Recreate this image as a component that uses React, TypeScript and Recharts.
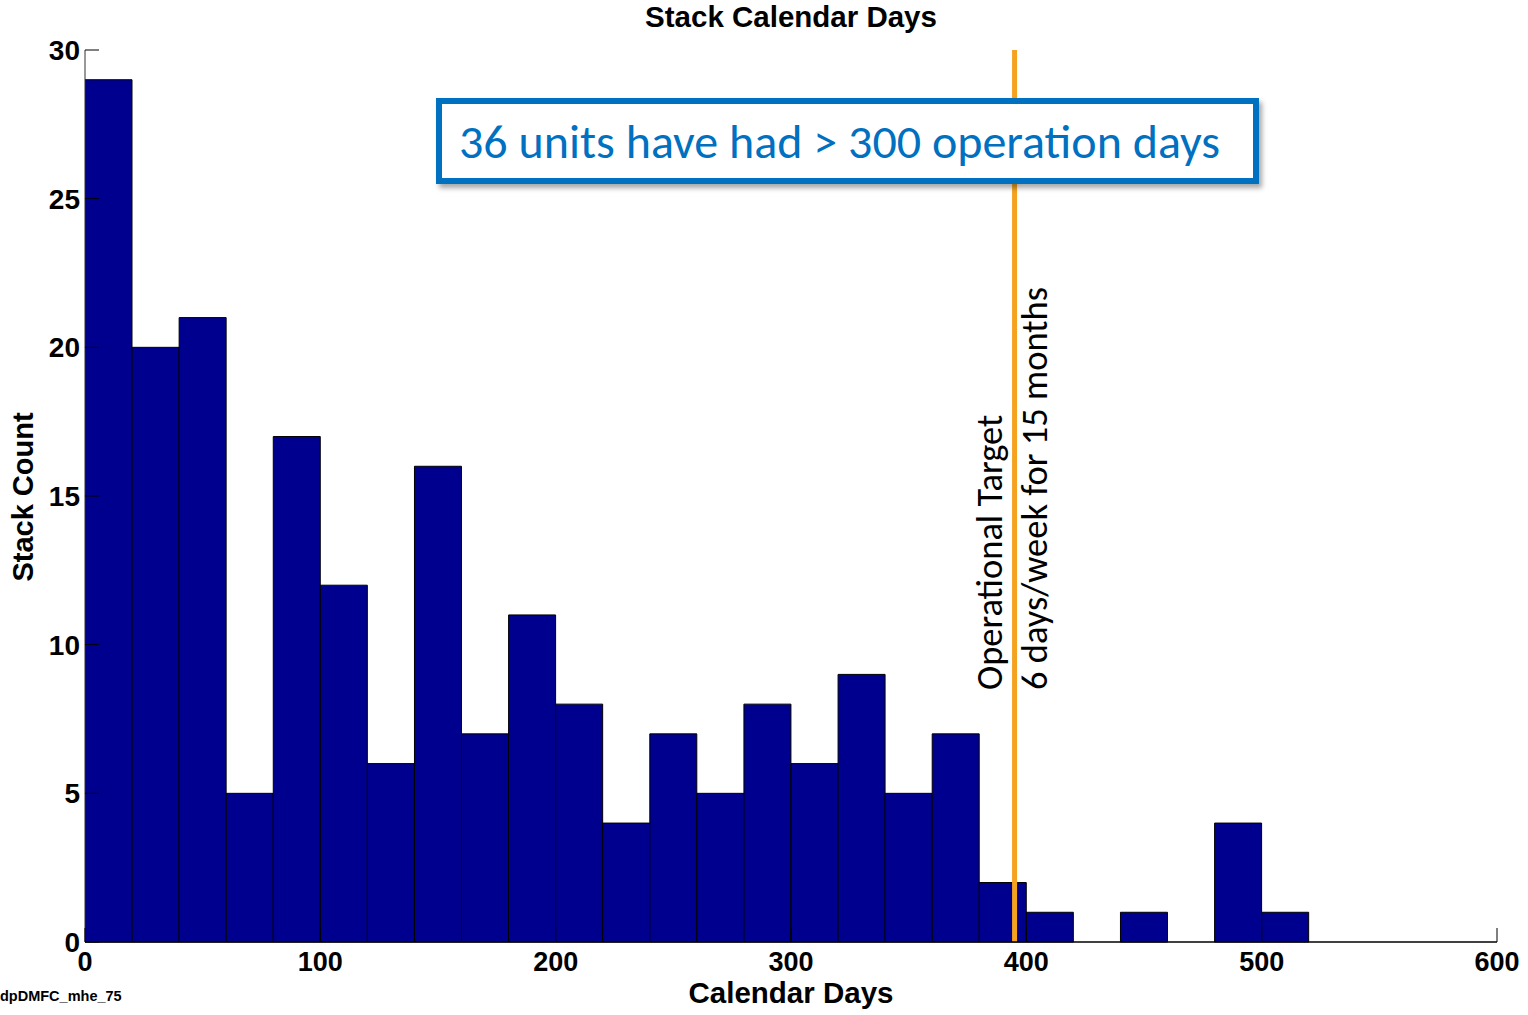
import React from 'react';
import { BarChart, Bar, XAxis, YAxis, ReferenceLine } from 'recharts';

// Histogram bins (20 days wide), identified by bin centre in days
const binCenters = [
  10, 30, 50, 70, 90, 110, 130, 150, 170, 190,
  210, 230, 250, 270, 290, 310, 330, 350, 370, 390,
  410, 430, 450, 470, 490, 510, 530, 550, 570, 590,
];
const stackCounts = [
  29, 20, 21, 5, 17, 12, 6, 16, 7, 11,
  8, 4, 7, 5, 8, 6, 9, 5, 7, 2,
  1, 0, 1, 0, 4, 1, 0, 0, 0, 0,
];
const xTicks = [0, 100, 200, 300, 400, 500, 600];
const yTicks = [0, 5, 10, 15, 20, 25, 30];
const targetDays = 395;

const data = binCenters.map((c, i) => ({ days: c, count: stackCounts[i] }));

const ARIAL = 'Arial, "Liberation Sans", Helvetica, sans-serif';
const CAL = 'Carlito, Calibri, Lato, "Open Sans", sans-serif';
const X_MARGIN = 8;
const Y_MARGIN = 5;

const XTick = (props: any) => {
  const { x, y, payload } = props;
  const axisY = y - X_MARGIN;
  return (
    <g>
      <line x1={x} y1={axisY} x2={x} y2={axisY - 14} stroke="#000" strokeWidth={1} />
      <text x={x} y={y} dy="0.78em" textAnchor="middle" fontFamily={ARIAL} fontWeight="bold" fontSize={27} fill="#000">
        {payload.value}
      </text>
    </g>
  );
};

const YTick = (props: any) => {
  const { x, y, payload } = props;
  const axisX = x + Y_MARGIN;
  return (
    <g>
      <line x1={axisX} y1={y} x2={axisX + 14} y2={y} stroke="#000" strokeWidth={1} />
      <text x={x} y={y} dy="0.36em" textAnchor="end" fontFamily={ARIAL} fontWeight="bold" fontSize={28} fill="#000">
        {payload.value}
      </text>
    </g>
  );
};

const TargetLabel = (props: any) => {
  const vb = props.viewBox || {};
  const lx = vb.x;
  const bottom = vb.y + vb.height;
  const sy = bottom - 252;
  return (
    <g>
      <text
        x={lx - 13}
        y={sy}
        transform={`rotate(-90 ${lx - 13} ${sy})`}
        fontFamily={CAL}
        fontSize={36.5}
        fill="#000"
        textAnchor="start"
      >
        Operational Target
      </text>
      <text
        x={lx + 32}
        y={sy}
        transform={`rotate(-90 ${lx + 32} ${sy})`}
        fontFamily={CAL}
        fontSize={36.5}
        fill="#000"
        textAnchor="start"
      >
        6 days/week for 15 months
      </text>
    </g>
  );
};

export default function App() {
  return (
    <div style={{ position: 'absolute', left: 0, top: 0, width: 1528, height: 1015, background: '#fff' }}>
      <BarChart
        width={1528}
        height={1015}
        data={data}
        margin={{ top: 50, right: 31, bottom: 0, left: 0 }}
        barCategoryGap={0}
        barGap={0}
      >
        <XAxis
          dataKey="days"
          type="number"
          domain={[0, 600]}
          ticks={xTicks}
          allowDataOverflow
          height={73}
          tickSize={0}
          tickMargin={X_MARGIN}
          tickLine={false}
          axisLine={{ stroke: '#000', strokeWidth: 1.5 }}
          tick={<XTick />}
          interval={0}
        />
        <YAxis
          type="number"
          domain={[0, 30]}
          ticks={yTicks}
          width={85}
          tickSize={0}
          tickMargin={Y_MARGIN}
          tickLine={false}
          axisLine={{ stroke: '#333', strokeWidth: 1 }}
          tick={<YTick />}
          interval={0}
        />
        <Bar
          dataKey="count"
          fill="#00008F"
          stroke="#000"
          strokeWidth={1}
          isAnimationActive={false}
        />
        <ReferenceLine
          x={targetDays}
          stroke="#F5A21E"
          strokeWidth={5}
          label={<TargetLabel />}
        />
      </BarChart>

      <div style={{ position: 'absolute', left: 0, top: 0, width: 1528, height: 1015, pointerEvents: 'none' }}>
        <div style={{ position: 'absolute', left: 0, width: 1582, top: 1, textAlign: 'center', fontFamily: ARIAL, fontWeight: 'bold', fontSize: 29.5, lineHeight: '32px', color: '#000' }}>
          Stack Calendar Days
        </div>
        <div style={{ position: 'absolute', left: 0, width: 1582, top: 977, textAlign: 'center', fontFamily: ARIAL, fontWeight: 'bold', fontSize: 29.5, lineHeight: '32px', color: '#000' }}>
          Calendar Days
        </div>
        <div style={{ position: 'absolute', left: 23, top: 497, transform: 'translate(-50%, -50%) rotate(-90deg)', whiteSpace: 'nowrap', fontFamily: ARIAL, fontWeight: 'bold', fontSize: 29, lineHeight: '32px', color: '#000' }}>
          Stack Count
        </div>
        <div style={{ position: 'absolute', left: 0, top: 987, fontFamily: ARIAL, fontWeight: 'bold', fontSize: 14.5, lineHeight: '18px', color: '#000' }}>
          dpDMFC_mhe_75
        </div>
        <div style={{
          position: 'absolute', left: 436, top: 98, width: 823, height: 86, boxSizing: 'border-box',
          border: '6px solid #0070C0', background: '#fff', boxShadow: '3px 4px 5px rgba(0,0,0,0.35)',
          display: 'flex', alignItems: 'center', paddingLeft: 17,
          fontFamily: CAL, fontSize: 48, color: '#0070C0', whiteSpace: 'nowrap',
        }}>
          36 units have had &gt; 300 operation days
        </div>
      </div>
    </div>
  );
}
